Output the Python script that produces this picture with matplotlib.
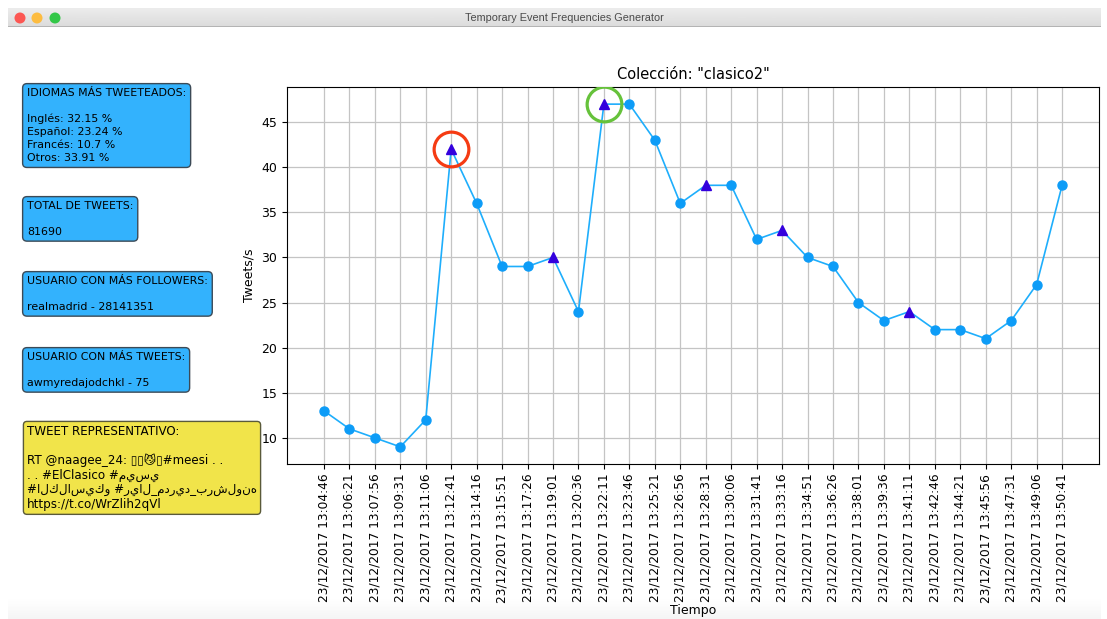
import matplotlib
matplotlib.use("Agg")
import matplotlib.pyplot as plt
import numpy as np
from matplotlib.patches import Ellipse, Rectangle

W, H = 1107, 619

# data
times = ['13:04:46', '13:06:21', '13:07:56', '13:09:31', '13:11:06', '13:12:41',
         '13:14:16', '13:15:51', '13:17:26', '13:19:01', '13:20:36', '13:22:11',
         '13:23:46', '13:25:21', '13:26:56', '13:28:31', '13:30:06', '13:31:41',
         '13:33:16', '13:34:51', '13:36:26', '13:38:01', '13:39:36', '13:41:11',
         '13:42:46', '13:44:21', '13:45:56', '13:47:31', '13:49:06', '13:50:41']
tweets = [13, 11, 10, 9, 12, 42, 36, 29, 29, 30, 24, 47, 47, 43, 36,
          38, 38, 32, 33, 30, 29, 25, 23, 24, 22, 22, 21, 23, 27, 38]
peaks = [5, 9, 11, 15, 18, 23]
first_peak = 5
max_peak = 11

languages = ['Inglés', 'Español', 'Francés', 'Otros']
language_pct = ['32.15', '23.24', '10.7', '33.91']
total_tweets = '81690'
top_follower = 'realmadrid - 28141351'
top_tweeter = 'awmyredajodchkl - 75'
tweet_text = ('RT @naagee_24: \u25af\u25af\U0001F63C\u25af#meesi . .\n'
              '. . #ElClasico #ميسي\n'
              '#الكلاسيكو #ريال_مدريد_برشلونه\n'
              'https://t.co/WrZlih2qVl')
collection = 'clasico2'


def fx(px):
    return px / W


def fy(py):
    return 1 - py / H


fig = plt.figure(figsize=(W / 100, H / 100), dpi=100)
fig.patch.set_facecolor('white')

# fake mac window title bar
bar = fig.add_axes([fx(8), fy(27), fx(1093), 19 / H], zorder=-1)
bar.imshow(np.linspace(0.925, 0.86, 40).reshape(-1, 1), aspect='auto', cmap='gray',
           vmin=0, vmax=1, extent=[0, 1, 0, 1], origin='upper')
bar.axis('off')
fig.add_artist(Rectangle((fx(8), fy(27)), fx(1093), 1 / H, transform=fig.transFigure,
                         facecolor='#b4b4b4', edgecolor='none', zorder=1))
for cx, col in zip([20, 37, 55], ['#fc5753', '#fdbc40', '#33c748']):
    fig.add_artist(Ellipse((fx(cx), fy(18)), 11 / W, 11 / H, transform=fig.transFigure,
                           facecolor=col, edgecolor='none', zorder=2))
fig.text(fx(564), fy(18), 'Temporary Event Frequencies Generator', ha='center', va='center',
         fontsize=7.8, family='Liberation Sans', color='#4a4a4a')

# soft shadow at the bottom of the window
shadow = fig.add_axes([fx(8), 0, fx(1093), 20 / H], zorder=-1)
shadow.imshow(np.linspace(0, 1, 50).reshape(-1, 1), aspect='auto', cmap='Greys',
              vmin=0, vmax=12, extent=[0, 1, 0, 1], origin='upper')
shadow.axis('off')

ax = fig.add_axes([fx(287), fy(464), fx(1099 - 287), (464 - 87) / H])
x = np.arange(len(tweets))
y = np.array(tweets)
normal = [i for i in x if i not in peaks]

ax.plot(x, y, color='#1eaefc', lw=1.2, zorder=2)
ax.plot(normal, y[normal], 'o', color='#0d9cf7', ms=6.5, zorder=3)
ax.plot(peaks, y[peaks], '^', color='#3300dd', ms=7.5, zorder=4)
ax.plot([first_peak], [tweets[first_peak]], 'o', ms=25, mfc='none', mec='#f53b13', mew=2.3, zorder=5)
ax.plot([max_peak], [tweets[max_peak]], 'o', ms=25, mfc='none', mec='#66c23b', mew=2.3, zorder=5)

ax.set_xticks(x)
ax.set_xticklabels(['23/12/2017 ' + t for t in times], rotation=90, fontsize=8.8)
ax.set_yticks(range(10, 50, 5))
ax.tick_params(axis='y', labelsize=9)
ax.grid(True, color='#c4c4c4', lw=0.9)
ax.set_axisbelow(True)
ax.set_title('Colección: "%s"' % collection, fontsize=10.5)
ax.set_xlabel('Tiempo', fontsize=9, labelpad=1)
ax.set_ylabel('Tweets/s', fontsize=9)

blue = '#33b2fd'
box = dict(boxstyle='round,pad=0.4', facecolor=blue, edgecolor='#3c4a56', lw=1)
lang_lines = '\n'.join('%s: %s %%' % (l, p) for l, p in zip(languages, language_pct))
fig.text(fx(27), fy(88), 'IDIOMAS MÁS TWEETEADOS:\n\n' + lang_lines, va='top', ha='left',
         fontsize=7.9, linespacing=1.36, bbox=box)
fig.text(fx(27), fy(201), 'TOTAL DE TWEETS:\n\n' + total_tweets, va='top', ha='left',
         fontsize=7.9, linespacing=1.36, bbox=box)
fig.text(fx(27), fy(276), 'USUARIO CON MÁS FOLLOWERS:\n\n' + top_follower, va='top', ha='left',
         fontsize=7.9, linespacing=1.36, bbox=box)
fig.text(fx(27), fy(352), 'USUARIO CON MÁS TWEETS:\n\n' + top_tweeter, va='top', ha='left',
         fontsize=7.9, linespacing=1.36, bbox=box)
fig.text(fx(27), fy(425), 'TWEET REPRESENTATIVO:\n\n' + tweet_text, va='top', ha='left',
         fontsize=8.6, linespacing=1.14,
         bbox=dict(boxstyle='round,pad=0.3', facecolor='#f1e44a', edgecolor='#5a5a3a', lw=1))

fig.savefig('out.png', dpi=100)
